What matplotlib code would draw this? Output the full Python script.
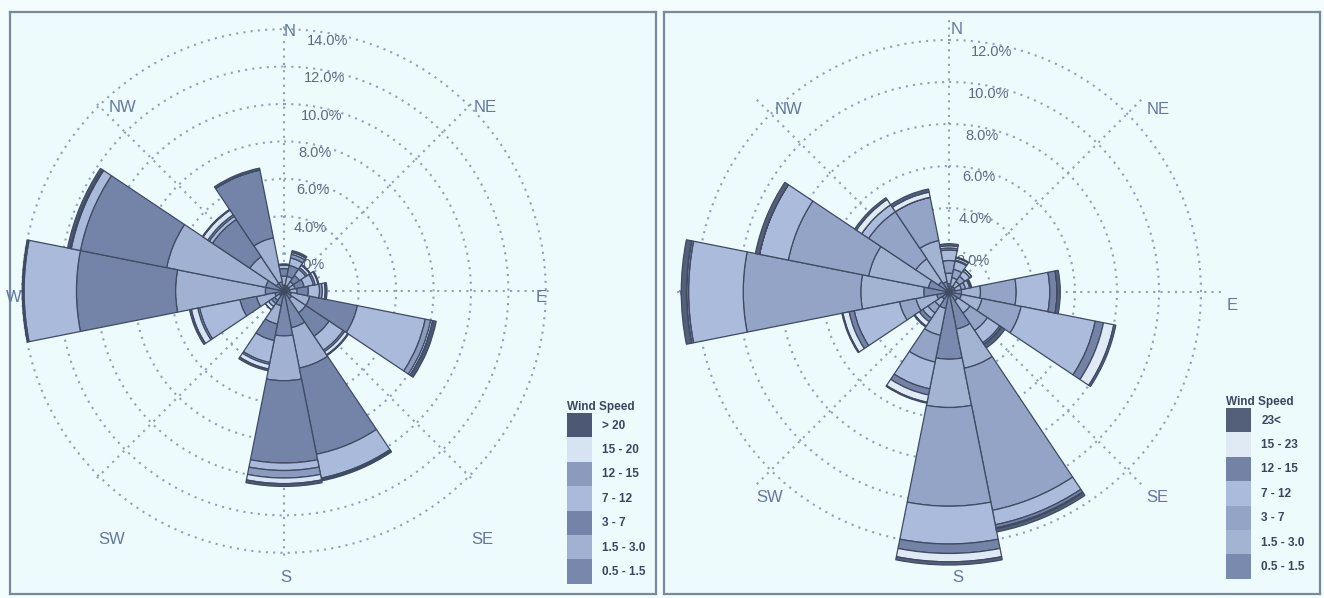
import numpy as np
import matplotlib.pyplot as plt
from matplotlib.patches import Patch

W_PX, H_PX = 1324, 598

directions = ['N', 'NNE', 'NE', 'ENE', 'E', 'ESE', 'SE', 'SSE',
              'S', 'SSW', 'SW', 'WSW', 'W', 'WNW', 'NW', 'NNW']
compass = ['N', 'NE', 'E', 'SE', 'S', 'SW', 'W', 'NW']

left_rings = [2, 4, 6, 8, 10, 12, 14]
right_rings = [2, 4, 6, 8, 10, 12]

left_speeds = ['0.5 - 1.5', '1.5 - 3.0', '3 - 7', '7 - 12', '12 - 15', '15 - 20', '> 20']
right_speeds = ['0.5 - 1.5', '1.5 - 3.0', '3 - 7', '7 - 12', '12 - 15', '15 - 23', '23<']

# frequency (%) per direction (N clockwise), one list per speed class
left_05_15 = [0.3, 0.3, 0.3, 0.3, 0.3, 0.4, 0.5, 2.0, 2.4, 0.8, 0.3, 0.5, 1.0, 1.0, 0.5, 0.5]
left_15_30 = [0.5, 0.5, 0.3, 0.3, 0.4, 1.0, 0.9, 2.2, 2.4, 1.0, 0.3, 1.0, 4.8, 5.4, 1.7, 2.4]
left_3_7 = [0.4, 0.6, 0.4, 0.5, 0.6, 2.6, 1.5, 4.7, 4.4, 0.9, 0.2, 0.9, 5.3, 4.7, 2.4, 3.7]
left_7_12 = [0.2, 0.4, 0.4, 0.5, 0.6, 3.7, 0.9, 1.3, 0.4, 1.2, 0.2, 2.2, 2.8, 0.5, 0.2, 0.0]
left_12_15 = [0.0, 0.2, 0.1, 0.1, 0.15, 0.3, 0.1, 0.05, 0.4, 0.1, 0.0, 0.1, 0.05, 0.05, 0.1, 0.0]
left_15_20 = [0.0, 0.1, 0.15, 0.15, 0.15, 0.1, 0.2, 0.05, 0.3, 0.25, 0.2, 0.35, 0.0, 0.0, 0.3, 0.0]
left_gt20 = [0.05, 0.1, 0.05, 0.05, 0.1, 0.2, 0.05, 0.05, 0.15, 0.1, 0.0, 0.1, 0.05, 0.15, 0.05, 0.1]

right_05_15 = [0.4, 0.3, 0.3, 0.3, 0.6, 0.6, 0.5, 1.8, 3.2, 0.8, 0.4, 0.6, 1.2, 1.0, 0.6, 0.5]
right_15_30 = [0.5, 0.4, 0.3, 0.3, 0.9, 1.0, 0.7, 1.9, 2.3, 1.3, 0.4, 1.0, 3.0, 2.9, 1.3, 2.0]
right_3_7 = [0.6, 0.4, 0.3, 0.2, 1.7, 1.9, 1.0, 6.9, 4.7, 1.3, 0.4, 0.8, 5.6, 3.9, 2.7, 2.1]
right_7_12 = [0.5, 0.4, 0.3, 0.2, 1.6, 3.6, 0.7, 0.7, 1.8, 1.3, 0.3, 2.2, 2.6, 1.4, 0.4, 0.0]
right_12_15 = [0.1, 0.05, 0.0, 0.05, 0.35, 0.4, 0.1, 0.15, 0.45, 0.3, 0.2, 0.25, 0.1, 0.0, 0.0, 0.0]
right_15_23 = [0.1, 0.1, 0.1, 0.0, 0.0, 0.5, 0.0, 0.05, 0.4, 0.35, 0.25, 0.3, 0.0, 0.0, 0.3, 0.25]
right_gt23 = [0.1, 0.05, 0.0, 0.05, 0.15, 0.1, 0.2, 0.15, 0.15, 0.05, 0.05, 0.05, 0.25, 0.2, 0.1, 0.15]

left_classes = [left_05_15, left_15_30, left_3_7, left_7_12, left_12_15, left_15_20, left_gt20]
right_classes = [right_05_15, right_15_30, right_3_7, right_7_12, right_12_15, right_15_23, right_gt23]

left_colors = ['#7888ac', '#a0b1d2', '#7484a8', '#a9badb', '#8a9bbd', '#d6e3f2', '#4c5874']
right_colors = ['#7a8aae', '#a3b4d3', '#93a4c6', '#abbbdb', '#7382a5', '#dfeaf5', '#545f7a']

# compass label offsets from the rose centre, in pixels (dx, up)
left_label_pos = [(6, 259), (201, 183), (257, -6), (198, -249),
                  (2, -287), (-172, -249), (-270, -6), (-162, 183)]
right_label_pos = [(8, 262), (209, 182), (283, -13), (208, -206),
                   (9, -286), (-179, -206), (-262, -5), (-161, 182)]

plt.rcParams['font.family'] = ['Liberation Sans', 'DejaVu Sans']

fig = plt.figure(figsize=(13.24, 5.98), dpi=100, facecolor='#f4fdfd')


def px_box(x0, y0, x1, y1):
    return [x0 / W_PX, 1 - y1 / H_PX, (x1 - x0) / W_PX, (y1 - y0) / H_PX]


def draw_rose(frame, center, px_per_pct, rmax, rings, classes, colors,
              speeds, label_pos, legend_xy):
    bg = fig.add_axes(px_box(*frame))
    bg.set_facecolor('#eefbfc')
    bg.set_xticks([])
    bg.set_yticks([])
    for s in bg.spines.values():
        s.set_color('#7a889b')
        s.set_linewidth(1.6)

    cx, cy = center
    rad = rmax * px_per_pct
    ax = fig.add_axes(px_box(cx - rad, cy - rad, cx + rad, cy + rad), projection='polar')
    ax.patch.set_alpha(0)
    ax.set_theta_zero_location('N')
    ax.set_theta_direction(-1)

    theta = np.deg2rad(np.arange(len(directions)) * 22.5)
    bottom = np.zeros(len(directions))
    for vals, col in zip(classes, colors):
        ax.bar(theta, vals, width=np.deg2rad(22.5), bottom=bottom, color=col,
               edgecolor='#3f4a63', linewidth=0.9, zorder=3)
        bottom += np.array(vals)

    ax.set_ylim(0, rmax)
    ax.set_xticks(np.deg2rad(np.arange(0, 360, 45)))
    ax.set_xticklabels([])
    ax.set_yticks(rings)
    ax.set_yticklabels([])
    ax.grid(True, color='#8da0c0', linestyle=(0, (1, 2.5)), linewidth=1.5)
    ax.spines['polar'].set_visible(False)
    ax.set_axisbelow(True)

    for r in rings:
        ax.annotate(f'{r:.1f}%', xy=(np.deg2rad(4), r), xytext=(3, -3),
                    textcoords='offset points', ha='left', va='top',
                    fontsize=10.5, color='#5d6a84', zorder=2)

    for lab, (dx, up) in zip(compass, label_pos):
        ax.text((cx + dx) / W_PX, 1 - (cy - up) / H_PX, lab, transform=fig.transFigure,
                ha='center', va='center', fontsize=12, color='#6477a3', zorder=2)

    handles = [Patch(facecolor=c, edgecolor='none') for c in colors[::-1]]
    leg = fig.legend(handles, speeds[::-1], title='Wind Speed', loc='upper left',
                     bbox_to_anchor=(legend_xy[0] / W_PX, 1 - legend_xy[1] / H_PX),
                     frameon=False, prop={'size': 8.5, 'weight': 'bold'},
                     title_fontproperties={'size': 8.5, 'weight': 'bold'},
                     handlelength=2.1, handleheight=2.8, labelspacing=0,
                     handletextpad=0.9, borderpad=0, borderaxespad=0,
                     alignment='left', labelcolor='#3b4560')
    leg.get_title().set_color('#3b4560')


draw_rose((10, 12, 656, 594), (284, 291), 18.7, 14.3, left_rings, left_classes,
          left_colors, left_speeds, left_label_pos, (567, 401))
draw_rose((664, 12, 1320, 594), (949, 292), 21.0, 13.2, right_rings, right_classes,
          right_colors, right_speeds, right_label_pos, (1226, 396))

fig.savefig('out.png', dpi=100, facecolor=fig.get_facecolor())
